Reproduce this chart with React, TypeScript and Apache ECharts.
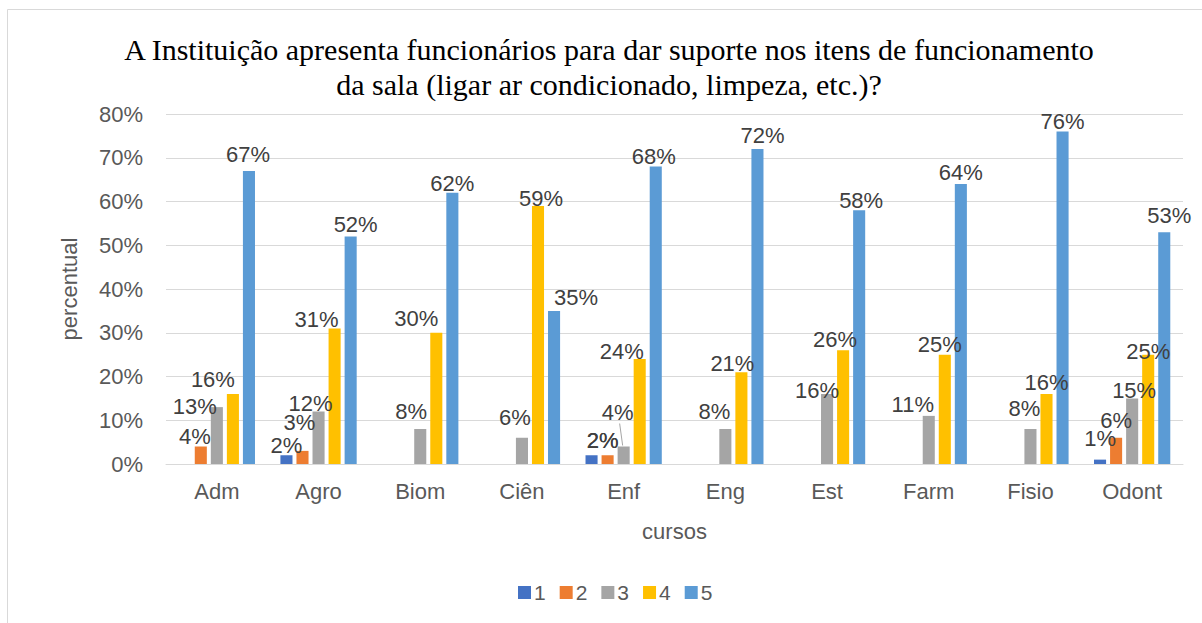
import React, { useEffect, useRef } from "react";
import * as echarts from "echarts";

const categories = ["Adm", "Agro", "Biom", "Ciên", "Enf", "Eng", "Est", "Farm", "Fisio", "Odont"];
const seriesNames = ["1", "2", "3", "4", "5"];
const values1 = [0, 2, 0, 0, 2, 0, 0, 0, 0, 1];
const values2 = [4, 3, 0, 0, 2, 0, 0, 0, 0, 6];
const values3 = [13, 12, 8, 6, 4, 8, 16, 11, 8, 15];
const values4 = [16, 31, 30, 59, 24, 21, 26, 25, 16, 25];
const values5 = [67, 52, 62, 35, 68, 72, 58, 64, 76, 53];
const yMin = 0;
const yMax = 80;
const yStep = 10;

const titleText =
  "A Instituição apresenta funcionários para dar suporte nos itens de funcionamento\nda sala (ligar ar condicionado, limpeza, etc.)?";

const colors = ["#4472C4", "#ED7D31", "#A5A5A5", "#FFC000", "#5B9BD5"];

// Manual placement of each data label (centre relative to the top-centre of its bar), in px
const labelDX = [
  [0, 0, 0, 0, 11, 0, 0, 0, 0, 0],
  [-6, -3, 0, 0, -5, 0, 0, 0, 0, 0],
  [-22, -8, -9, -7, -6, -11, -10, -16, -6, 2],
  [-20, -18, -20, 3, -18, -9, -8, -5, 0, 0],
  [-1, 5, 0, 22, -2, 5, 2, 0, 0, 5],
];
const labelDY = [
  [0, -10, 0, 0, -15, 0, 0, 0, 0, -21],
  [-10, -28, 0, 0, -15, 0, 0, 0, 0, -17],
  [-1, -8, -18, -20, -34, -18, -4, -11, -21, -8],
  [-15, -9, -14, -7, -8, -9, -11, -10, -12, -3],
  [-16, -12, -9, -13, -10, -14, -10, -12, -10, -17],
];
// label moved away from its bar, joined by a leader line (series 3, Enf)
const leaderSeries = 2;
const leaderIndex = 4;

const SANS = "'Liberation Sans', Arial, sans-serif";
const SERIF = "'Liberation Serif', 'Times New Roman', serif";

export default function App() {
  const ref = useRef<HTMLDivElement>(null);

  useEffect(() => {
    if (!ref.current) return;
    const chart = echarts.init(ref.current, null, { renderer: "svg" });
    const allValues = [values1, values2, values3, values4, values5];
    chart.setOption({
      animation: false,
      backgroundColor: "#ffffff",
      color: colors,
      title: {
        text: titleText,
        left: 604,
        top: 27,
        textAlign: "center",
        textStyle: {
          fontFamily: SERIF,
          fontSize: 30,
          fontWeight: "normal",
          color: "#000000",
          lineHeight: 35,
        },
      },
      legend: {
        data: seriesNames,
        left: 513,
        top: 577,
        icon: "rect",
        itemWidth: 13,
        itemHeight: 13,
        itemGap: 14,
        textStyle: { fontFamily: SANS, fontSize: 21, color: "#595959", padding: [0, 0, 0, -2] },
      },
      grid: { left: 166, right: 19, top: 114, bottom: 159 },
      xAxis: {
        type: "category",
        data: categories,
        name: "cursos",
        nameLocation: "middle",
        nameGap: 56,
        nameTextStyle: { fontFamily: SANS, fontSize: 22, color: "#595959" },
        axisLine: { lineStyle: { color: "#d9d9d9", width: 1 } },
        axisTick: { show: false },
        axisLabel: { fontFamily: SANS, fontSize: 22, color: "#595959", margin: 16 },
      },
      yAxis: {
        type: "value",
        min: yMin,
        max: yMax,
        interval: yStep,
        name: "percentual",
        nameLocation: "middle",
        nameGap: 86,
        nameTextStyle: { fontFamily: SANS, fontSize: 22, color: "#595959" },
        axisLine: { show: false },
        axisTick: { show: false },
        axisLabel: { fontFamily: SANS, fontSize: 22, color: "#595959", margin: 23, formatter: "{value}%" },
        splitLine: { lineStyle: { color: "#d9d9d9", width: 1 } },
      },
      series: seriesNames.map((name, i) => ({
        name,
        type: "bar",
        barGap: "33%",
        barCategoryGap: "25%",
        itemStyle: { color: colors[i] },
        data: allValues[i].map((v, j) => ({
          value: v,
          label: { offset: [labelDX[i][j], labelDY[i][j] + 11] },
        })),
        label: {
          show: true,
          position: "top",
          distance: 0,
          fontFamily: SANS,
          fontSize: 22,
          color: "#404040",
          formatter: (p: any) => (p.value > 0 ? `${p.value}%` : ""),
        },
      })),
    });

    const top = chart.convertToPixel({ seriesIndex: leaderSeries }, [
      leaderIndex,
      allValues[leaderSeries][leaderIndex],
    ]) as number[];
    chart.setOption({
      graphic: [
        {
          type: "rect",
          shape: { x: 7.5, y: 9.5, width: 1300, height: 700 },
          style: { fill: "none", stroke: "#d9d9d9", lineWidth: 1 },
          silent: true,
          z: -10,
        },
        {
          type: "line",
          shape: { x1: top[0] - 4, y1: top[1] - 23, x2: top[0] - 1, y2: top[1] - 1 },
          style: { stroke: "#a6a6a6", lineWidth: 1 },
          silent: true,
        },
      ],
    });
    return () => chart.dispose();
  }, []);

  return (
    <div
      ref={ref}
      style={{ position: "fixed", left: 0, top: 0, width: 1202, height: 623 }}
    />
  );
}
